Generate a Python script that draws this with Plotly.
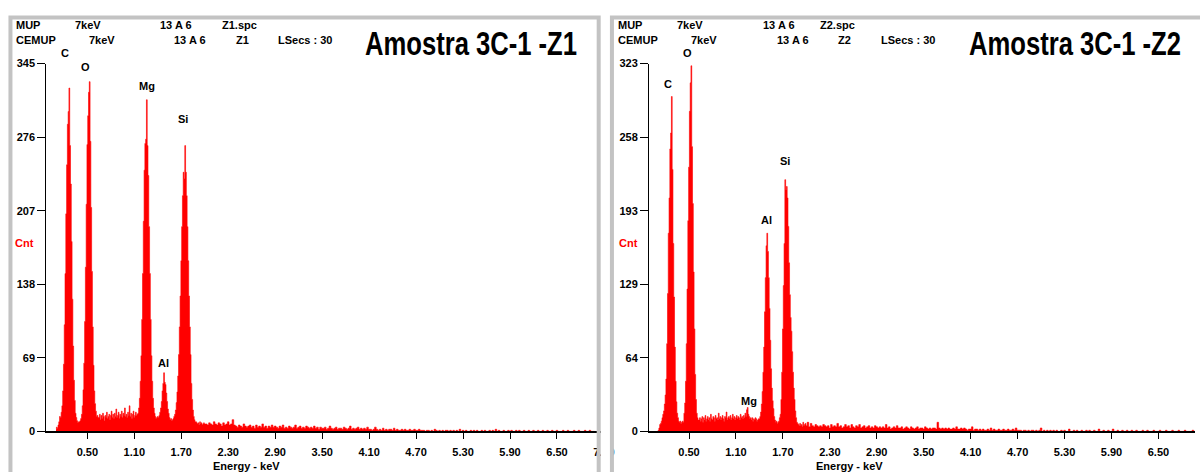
import plotly.graph_objects as go

W, H = 1200, 472

# ---------------- data ----------------
# counts per channel, fine channels: 0.10 .. 1.99 keV (0.01 keV), coarse: 2.00 .. 6.98 keV (0.02 keV)
FINE_START, FINE_STEP = 0.10, 0.01
COARSE_START, COARSE_STEP = 2.00, 0.02

z1_fine = [
    2, 4, 3, 6, 9, 14, 13, 18, 24, 38,            # 0.10
    63, 100, 148, 204, 250, 288, 300, 322, 268, 232,  # 0.20
    178, 124, 80, 48, 29, 17, 13, 10, 8, 9,       # 0.30
    9, 10, 12, 16, 24, 39, 64, 103, 154, 213,     # 0.40
    269, 296, 318, 328, 272, 210, 150, 98, 62, 38,  # 0.50
    26, 19, 14, 15, 13, 13, 16, 11, 15, 12,       # 0.60
    17, 14, 10, 15, 13, 18, 12, 14, 16, 11,       # 0.70
    15, 19, 13, 16, 12, 17, 14, 21, 13, 15,       # 0.80
    18, 12, 16, 14, 19, 13, 17, 15, 22, 14,       # 0.90
    16, 13, 18, 15, 24, 14, 17, 12, 16, 19,       # 1.00
    13, 15, 18, 15, 16, 17, 22, 31, 47, 71,       # 1.10
    105, 148, 197, 245, 270, 274, 311, 268, 240, 192,  # 1.20
    148, 105, 71, 47, 31, 22, 17, 14, 12, 13,     # 1.30
    14, 13, 15, 18, 22, 28, 38, 45, 55, 46,       # 1.40
    44, 36, 28, 21, 17, 13, 11, 12, 10, 11,       # 1.50
    12, 14, 16, 20, 27, 37, 52, 72, 98, 127,      # 1.60
    160, 192, 221, 243, 237, 268, 243, 221, 192, 160,  # 1.70
    127, 98, 72, 45, 30, 20, 14, 11, 9, 9,        # 1.80
    8, 7, 8, 6, 9, 7, 8, 6, 7, 8,                 # 1.90
]
z1_coarse = [
    7, 7, 6, 8, 7, 6, 9, 7, 6, 8,   # 2.00
    7, 5, 8, 6, 7, 9, 6, 7, 11, 6,  # 2.20
    5, 4, 6, 5, 4, 7, 5, 4, 5, 6,   # 2.40
    4, 5, 3, 6, 4, 5, 4, 7, 4, 5,   # 2.60
    3, 5, 4, 6, 4, 5, 4, 3, 5, 4,   # 2.80
    6, 3, 4, 3, 5, 4, 3, 4, 6, 3,   # 3.00
    4, 5, 3, 4, 3, 5, 4, 3, 4, 3,   # 3.20
    5, 3, 4, 2, 4, 3, 3, 4, 2, 3,   # 3.40
    5, 3, 2, 3, 4, 2, 3, 3, 2, 4,   # 3.60
    3, 2, 3, 5, 2, 3, 2, 3, 4, 2,   # 3.80
    3, 2, 3, 2, 4, 2, 2, 1, 2, 4,   # 4.00
    2, 1, 2, 1, 3, 1, 2, 1, 2, 2,   # 4.20
    1, 3, 1, 2, 1, 1, 2, 1, 2, 1,   # 4.40
    1, 2, 1, 1, 2, 1, 1, 2, 1, 1,   # 4.60
    1, 0, 1, 1, 0, 1, 0, 2, 1, 0,   # 4.80
    1, 0, 1, 0, 1, 1, 0, 1, 0, 1,   # 5.00
    0, 1, 0, 2, 0, 1, 0, 1, 0, 0,   # 5.20
    1, 0, 1, 0, 1, 0, 0, 1, 0, 1,   # 5.40
    0, 0, 1, 0, 1, 0, 2, 0, 1, 0,   # 5.60
    0, 1, 0, 0, 1, 0, 1, 0, 0, 1,   # 5.80
    0, 1, 0, 0, 1, 0, 0, 1, 0, 0,   # 6.00
    1, 0, 0, 1, 0, 0, 1, 0, 0, 1,   # 6.20
    0, 0, 1, 0, 0, 1, 0, 0, 0, 1,   # 6.40
    0, 0, 1, 0, 0, 0, 1, 0, 0, 1,   # 6.60
    0, 0, 0, 1, 0, 0, 1, 0, 0, 0,   # 6.80
]

z2_fine = [
    0, 1, 3, 6, 7, 9, 12, 15, 18, 24,             # 0.10
    32, 46, 77, 121, 174, 205, 248, 262, 294, 230,  # 0.20
    165, 118, 74, 44, 26, 16, 12, 9, 8, 9,        # 0.30
    7, 8, 9, 8, 16, 25, 44, 77, 125, 185,         # 0.40
    232, 281, 306, 321, 250, 200, 140, 90, 50, 28,  # 0.50
    16, 12, 10, 10, 12, 9, 11, 13, 8, 12,         # 0.60
    10, 14, 9, 11, 13, 10, 12, 9, 15, 11,         # 0.70
    10, 13, 12, 9, 14, 11, 12, 10, 16, 11,        # 0.80
    13, 10, 12, 14, 11, 9, 13, 12, 17, 10,        # 0.90
    12, 13, 11, 14, 10, 12, 15, 11, 13, 10,       # 1.00
    12, 14, 11, 13, 12, 10, 15, 12, 13, 11,       # 1.10
    14, 12, 16, 13, 19, 21, 15, 13, 11, 12,       # 1.20
    10, 12, 9, 11, 10, 12, 11, 9, 10, 11,         # 1.30
    11, 13, 17, 24, 35, 52, 74, 105, 135, 163,    # 1.40
    174, 158, 135, 108, 80, 55, 38, 27, 20, 13,   # 1.50
    10, 8, 9, 7, 8, 9, 12, 15, 28, 52,            # 1.60
    90, 128, 165, 221, 212, 215, 205, 180, 148, 120,  # 1.70
    100, 88, 70, 52, 38, 28, 18, 12, 8, 7,        # 1.80
    6, 5, 7, 5, 6, 4, 8, 5, 6, 7,                 # 1.90
]
z2_coarse = [
    5, 8, 4, 7, 5, 4, 6, 5, 4, 5,   # 2.00
    4, 6, 5, 4, 5, 3, 6, 4, 5, 4,   # 2.20
    7, 4, 5, 3, 4, 6, 4, 5, 3, 6,   # 2.40
    4, 3, 5, 4, 6, 3, 4, 5, 3, 4,   # 2.60
    5, 3, 4, 3, 5, 4, 3, 4, 3, 4,   # 2.80
    3, 6, 3, 4, 2, 3, 4, 3, 5, 3,   # 3.00
    3, 4, 2, 3, 4, 3, 2, 4, 3, 2,   # 3.20
    3, 4, 2, 3, 3, 2, 4, 3, 2, 3,   # 3.40
    2, 3, 3, 2, 8, 3, 2, 3, 2, 3,   # 3.60
    2, 3, 2, 2, 3, 2, 4, 2, 2, 3,   # 3.80
    2, 3, 2, 1, 2, 2, 4, 1, 2, 2,   # 4.00
    1, 2, 1, 2, 1, 1, 2, 1, 3, 1,   # 4.20
    2, 1, 1, 2, 1, 1, 2, 1, 1, 2,   # 4.40
    1, 1, 2, 1, 3, 1, 1, 1, 0, 1,   # 4.60
    1, 0, 1, 0, 1, 1, 0, 1, 0, 1,   # 4.80
    3, 0, 1, 0, 1, 0, 1, 0, 1, 0,   # 5.00
    1, 0, 0, 1, 0, 1, 0, 0, 2, 0,   # 5.20
    0, 1, 0, 1, 0, 0, 1, 0, 0, 1,   # 5.40
    0, 1, 0, 0, 1, 0, 0, 2, 0, 0,   # 5.60
    1, 0, 0, 1, 0, 0, 2, 0, 0, 1,   # 5.80
    0, 0, 1, 0, 0, 1, 0, 0, 1, 0,   # 6.00
    0, 1, 0, 0, 0, 1, 0, 0, 1, 0,   # 6.20
    0, 0, 1, 0, 0, 0, 1, 0, 0, 0,   # 6.40
    1, 0, 0, 0, 1, 0, 0, 0, 1, 0,   # 6.60
    0, 0, 1, 0, 0, 0, 0, 1, 0, 0,   # 6.80
]

x_tick_vals = [0.50, 1.10, 1.70, 2.30, 2.90, 3.50, 4.10, 4.70, 5.30, 5.90, 6.50, 7.10]
x_tick_text = ["0.50", "1.10", "1.70", "2.30", "2.90", "3.50", "4.10", "4.70", "5.30", "5.90", "6.50", "7.10"]
z1_y_ticks = [0, 69, 138, 207, 276, 345]
z1_y_text = ["0", "69", "138", "207", "276", "345"]
z2_y_ticks = [0, 64.6, 129.2, 193.8, 258.4, 323]
z2_y_text = ["0", "64", "129", "193", "258", "323"]

# element labels: energy (keV) under the label, and label height in picture pixels
z1_peaks = ["C", "O", "Mg", "Si", "Al"]
z1_peak_kev = [0.22, 0.475, 1.258, 1.716, 1.475]
z1_peak_ypx = [48, 63, 82, 116, 366]
z2_peaks = ["C", "O", "Al", "Si", "Mg"]
z2_peak_kev = [0.23, 0.485, 1.485, 1.732, 1.269]
z2_peak_ypx = [80, 48, 220, 159, 405]

header_row1 = ["MUP", "7keV", "13 A 6"]
header_row2 = ["CEMUP", "7keV", "13 A 6"]
z1_name, z2_name = "Z1", "Z2"
lsecs = "LSecs : 30"
z1_title = "Amostra 3C-1 -Z1"
z2_title = "Amostra 3C-1 -Z2"


def energies(n_fine, n_coarse):
    e = [round(FINE_START + i * FINE_STEP, 3) for i in range(n_fine)]
    e += [round(COARSE_START + i * COARSE_STEP, 3) for i in range(n_coarse)]
    return e


def px(x):
    return x / W


def py(y):
    return 1 - y / H


RED = "#ff0000"
FONT = "Liberation Sans, Arial, sans-serif"
BOLD11 = dict(family=FONT, size=11, color="black", weight="bold")

fig = go.Figure()
fig.add_trace(go.Scatter(
    x=energies(len(z1_fine), len(z1_coarse)), y=z1_fine + z1_coarse,
    mode="lines", line=dict(color=RED, width=0.6, shape="hvh"),
    fill="tozeroy", fillcolor=RED, xaxis="x", yaxis="y", hoverinfo="skip"))
fig.add_trace(go.Scatter(
    x=energies(len(z2_fine), len(z2_coarse)), y=z2_fine + z2_coarse,
    mode="lines", line=dict(color=RED, width=0.6, shape="hvh"),
    fill="tozeroy", fillcolor=RED, xaxis="x2", yaxis="y2", hoverinfo="skip"))

# pixel geometry of the two spectra panels
L_X0, L_X1, L_ZERO, PPK = 46.5, 612.0, 48.4, 78.6
R_X0, R_X1, R_ZERO, RPPK = 651.7, 1200.0, 652.6, 78.57
Y_TOP, Y_BOT = 59.0, 436.5

common_x = dict(showline=True, linecolor="black", linewidth=2, ticks="outside", ticklen=6,
                tickwidth=1, tickcolor="black", showgrid=False, zeroline=False,
                tickvals=x_tick_vals, ticktext=x_tick_text, tickfont=BOLD11, fixedrange=True,
                ticklabelstandoff=3)
common_y = dict(showline=True, linecolor="black", linewidth=1, ticks="outside", ticklen=8,
                tickwidth=1, tickcolor="black", showgrid=False, zeroline=False,
                tickfont=BOLD11, fixedrange=True)

fig.update_layout(
    width=W, height=H, margin=dict(l=0, r=0, t=0, b=0), autosize=False,
    paper_bgcolor="white", plot_bgcolor="white", showlegend=False,
    font=dict(family=FONT, size=11, color="black"),
    xaxis=dict(domain=[px(L_X0), px(L_X1)],
               range=[(L_X0 - L_ZERO) / PPK, (L_X1 - L_ZERO) / PPK], anchor="y", **common_x),
    yaxis=dict(domain=[py(Y_BOT), py(Y_TOP)], range=[0, 345], anchor="x",
               tickvals=z1_y_ticks, ticktext=z1_y_text, **common_y),
    xaxis2=dict(domain=[px(R_X0), px(R_X1)],
                range=[(R_X0 - R_ZERO) / RPPK, (R_X1 - R_ZERO) / RPPK], anchor="y2", **common_x),
    yaxis2=dict(domain=[py(Y_BOT), py(Y_TOP)], range=[0, 323], anchor="x2",
                tickvals=z2_y_ticks, ticktext=z2_y_text, **common_y),
)

ann = []


def text(x, y, s, anchor="left", font=BOLD11, yanchor="middle", **kw):
    ann.append(dict(x=px(x), y=py(y), xref="paper", yref="paper", text=s, showarrow=False,
                    xanchor=anchor, yanchor=yanchor, font=font, borderpad=0, **kw))


# headers
for xs1, xs2, name in (([14.7, 74, 160, 221.7], [14.7, 88.3, 174, 236, 278.3], z1_name),
                       ([619.3, 679, 765, 822.7], [619.3, 693.3, 779.3, 840, 883.3], z2_name)):
    for s, x in zip(header_row1 + [name + ".spc"], xs1):
        text(x, 20, s)
    for s, x in zip(header_row2 + [name, lsecs], xs2):
        text(x, 35, s)

TITLE_FONT = dict(family="Liberation Sans, Arial, sans-serif", size=33, color="black", weight="bold")
text(473.3, 38, z1_title, anchor="center", font=TITLE_FONT, width=216)
text(1079, 38, z2_title, anchor="center", font=TITLE_FONT, width=216)

RED11 = dict(family=FONT, size=11, color=RED, weight="bold")
text(25, 243, "Cnt", anchor="center", font=RED11)
text(631, 243, "Cnt", anchor="center", font=RED11)

text(248, 472, "Energy - keV", anchor="center")
text(852.6, 472, "Energy - keV", anchor="center")

for s, x, y in zip(z1_peaks, z1_peak_kev, z1_peak_ypx):
    ann.append(dict(x=x, y=py(y), xref="x", yref="paper", text=s, showarrow=False,
                    xanchor="center", yanchor="middle", font=BOLD11))
for s, x, y in zip(z2_peaks, z2_peak_kev, z2_peak_ypx):
    ann.append(dict(x=x, y=py(y), xref="x2", yref="paper", text=s, showarrow=False,
                    xanchor="center", yanchor="middle", font=BOLD11))

fig.update_layout(annotations=ann)

GRAY = "#c3c3c3"
shapes = [
    dict(type="rect", xref="paper", yref="paper", x0=px(603.3), x1=px(612.7), y0=py(480), y1=py(0),
         fillcolor="white", line=dict(width=0), layer="above"),
    dict(type="rect", xref="paper", yref="paper", x0=px(10.5), x1=px(601.2), y0=py(495), y1=py(11.7),
         fillcolor="rgba(0,0,0,0)", line=dict(color=GRAY, width=4), layer="above"),
    dict(type="rect", xref="paper", yref="paper", x0=px(614.5), x1=px(1215), y0=py(495), y1=py(11.7),
         fillcolor="rgba(0,0,0,0)", line=dict(color=GRAY, width=4), layer="above"),
]
fig.update_layout(shapes=shapes)

# the panel titles use a narrow bold face: squeeze them to their measured width
POST = """
var gd = document.getElementById('{plot_id}');
function squeezeTitles() {
  gd.querySelectorAll('text.annotation-text').forEach(function (t) {
    var u = t.getAttribute('data-unformatted') || t.textContent;
    if (u.indexOf('Amostra') === 0) {
      t.setAttribute('textLength', '212');
      t.setAttribute('lengthAdjust', 'spacingAndGlyphs');
    }
  });
}
squeezeTitles();
if (gd.on) { gd.on('plotly_afterplot', squeezeTitles); }
setTimeout(squeezeTitles, 50);
"""

fig.write_html("out.html", post_script=POST)
